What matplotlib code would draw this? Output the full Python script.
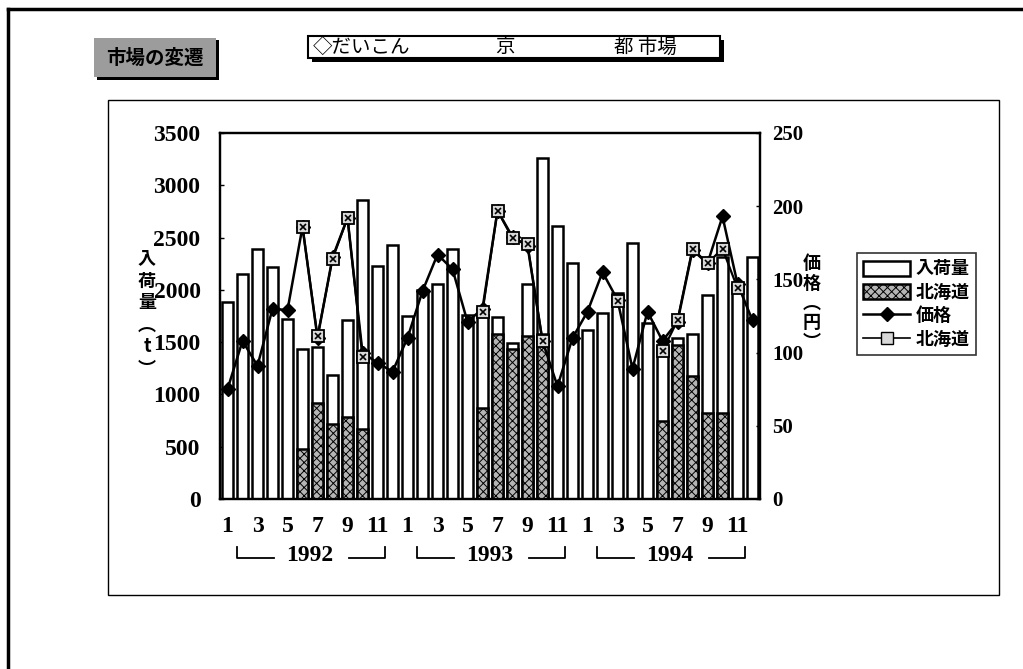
import numpy as np
import matplotlib
matplotlib.use("Agg")
import matplotlib.pyplot as plt
from matplotlib.patches import Rectangle, Patch
from matplotlib.lines import Line2D

# ---------------- data ----------------
years = ["1992", "1993", "1994"]
months = [1, 2, 3, 4, 5, 6, 7, 8, 9, 10, 11, 12] * 3
tick_month_labels = ["1", "3", "5", "7", "9", "11"]

arrival = [1880, 2150, 2390, 2220, 1720, 1430, 1450, 1190, 1710, 2860, 2230, 2430,
           1750, 2000, 2060, 2390, 1760, 1760, 1740, 1490, 2060, 3260, 2610, 2260,
           1620, 1780, 1970, 2450, 1680, 1450, 1540, 1580, 1950, 2310, 2050, 2310]
hokkaido = [0, 0, 0, 0, 0, 480, 920, 720, 780, 670, 0, 0,
            0, 0, 0, 0, 0, 870, 1580, 1430, 1560, 1580, 0, 0,
            0, 0, 0, 0, 0, 750, 1470, 1180, 820, 820, 0, 0]
price = [75, 108, 91, 130, 129, 186, 110, 165, 192, 100, 93, 87,
         110, 142, 167, 157, 121, 130, 197, 179, 173, 108, 77, 110,
         128, 155, 136, 89, 128, 108, 121, 170, 161, 193, 147, 122]
nan = np.nan
hokkaido_price = [nan, nan, nan, nan, nan, 186, 111, 164, 192, 97, nan, nan,
                  nan, nan, nan, nan, nan, 128, 197, 178, 174, 108, nan, nan,
                  nan, nan, 135, nan, nan, 101, 122, 171, 161, 171, 144, nan]

# ---------------- style ----------------
CJK = ["Noto Sans CJK JP", "DejaVu Sans"]
NUM = ["Liberation Serif", "DejaVu Serif"]
plt.rcParams["hatch.linewidth"] = 0.7

W, H = 1023, 669
fig = plt.figure(figsize=(W / 100, H / 100), dpi=100)
fig.patch.set_facecolor("white")

def fx(px):
    return px / W

def fy(py):
    return 1 - py / H

ax = fig.add_axes([fx(220), fy(499), fx(760) - fx(220), fy(133) - fy(499)])
x = np.arange(len(arrival))

ax.bar(x, arrival, width=0.78, color="white", edgecolor="black", lw=1.8, zorder=2)
ax.bar(x, hokkaido, width=0.78, facecolor="#b5b5b5", hatch="xxxx",
       edgecolor="black", lw=1.8, zorder=3)
ax.set_xlim(-0.5, len(arrival) - 0.5)
ax.set_ylim(0, 3500)
ax.set_yticks(np.arange(0, 3501, 500))
ax.set_yticklabels([str(v) for v in range(0, 3501, 500)],
                   fontfamily=NUM, fontweight="bold", fontsize=17)
ax.tick_params(axis="y", direction="in", length=3, width=1, pad=14)

tick_pos = [i for i, m in enumerate(months) if m % 2 == 1]
ax.set_xticks(tick_pos)
ax.set_xticklabels(tick_month_labels * len(years), fontfamily=NUM,
                   fontweight="bold", fontsize=17)
ax.tick_params(axis="x", length=0, pad=12)
for s in ax.spines.values():
    s.set_linewidth(1.6)

ax2 = ax.twinx()
ax2.set_ylim(0, 250)
ax2.set_yticks(np.arange(0, 251, 50))
ax2.set_yticklabels([str(v) for v in range(0, 251, 50)],
                    fontfamily=NUM, fontweight="bold", fontsize=15)
ax2.tick_params(axis="y", direction="in", length=3, width=1, pad=9)
ax2.plot(x, price, color="black", lw=1.8, marker="D", ms=7,
         markerfacecolor="black", zorder=4)
ax2.plot(x, hokkaido_price, color="black", lw=1.6, marker="s", ms=9,
         markerfacecolor="#d8d8d8", markeredgecolor="black", mew=1.3, zorder=5)
ax2.plot(x, hokkaido_price, ls="none", marker="x", ms=5, color="black",
         mew=1.2, zorder=6)
for s in ax2.spines.values():
    s.set_linewidth(1.6)

# year labels and brackets
xt = ax.get_xaxis_transform()
for k, yr in enumerate(years):
    b = 12 * k
    ax.text(b + 5.5, -0.155, yr, transform=xt, ha="center", va="center",
            fontfamily=NUM, fontweight="bold", fontsize=17)
    ax.plot([b + 0.6, b + 0.6, b + 3.1], [-0.13, -0.16, -0.16], transform=xt,
            color="black", lw=1.3, clip_on=False)
    ax.plot([b + 8.1, b + 10.5, b + 10.5], [-0.16, -0.16, -0.13], transform=xt,
            color="black", lw=1.3, clip_on=False)

# axis labels (vertical)
fig.text(fx(147), fy(314), "入\n荷\n量\n︵\nt\n︶", ha="center", va="center",
         fontfamily=CJK, fontsize=13, fontweight="bold", linespacing=1.2)
fig.text(fx(812), fy(303), "価\n格\n︵\n円\n︶", ha="center", va="center",
         fontfamily=CJK, fontsize=13, fontweight="bold", linespacing=1.05)

# legend
handles = [
    Patch(facecolor="white", edgecolor="black", lw=1.8),
    Patch(facecolor="#b5b5b5", edgecolor="black", hatch="xxxx", lw=1.8),
    Line2D([], [], color="black", lw=1.8, marker="D", ms=7),
    Line2D([], [], color="black", lw=1.2, marker="s", ms=8,
           markerfacecolor="#d8d8d8", markeredgecolor="black"),
]
leg = fig.legend(handles, ["入荷量", "北海道", "価格", "北海道"],
                 loc="upper left", bbox_to_anchor=(fx(857), fy(253)),
                 prop={"family": CJK, "size": 13, "weight": "bold"},
                 frameon=True, fancybox=False, edgecolor="black",
                 handlelength=2.6, handleheight=0.9, handletextpad=0.3,
                 labelspacing=0.25, borderpad=0.35, borderaxespad=0)
leg.get_frame().set_linewidth(1.2)

# inner chart frame
fig.add_artist(Rectangle((fx(108), fy(595)), fx(999) - fx(108), fy(100) - fy(595),
                         transform=fig.transFigure, fill=False, ec="black", lw=1.0))
# outer frame (top & left)
fig.add_artist(Line2D([fx(8), 1], [fy(9), fy(9)], transform=fig.transFigure,
                      color="black", lw=2.5))
fig.add_artist(Line2D([fx(8), fx(8)], [fy(9), 0], transform=fig.transFigure,
                      color="black", lw=2.5))

# "市場の変遷" badge
fig.add_artist(Rectangle((fx(97), fy(80)), fx(219) - fx(97), fy(40) - fy(80),
                         transform=fig.transFigure, fc="black", ec="black", lw=0))
fig.add_artist(Rectangle((fx(94), fy(77)), fx(216) - fx(94), fy(38) - fy(77),
                         transform=fig.transFigure, fc="#9c9c9c", ec="#9c9c9c",
                         hatch="....", lw=0))
fig.text(fx(155), fy(58), "市場の変遷", ha="center", va="center",
         fontfamily=CJK, fontsize=14, fontweight="bold", color="black")

# title box
fig.add_artist(Rectangle((fx(312), fy(62)), fx(724) - fx(312), fy(40) - fy(62),
                         transform=fig.transFigure, fc="black", ec="black", lw=0))
fig.add_artist(Rectangle((fx(308), fy(58)), fx(720) - fx(308), fy(36) - fy(58),
                         transform=fig.transFigure, fc="white", ec="black", lw=1.5))
fig.text(fx(313), fy(47), "◇だいこん", ha="left", va="center",
         fontfamily=CJK, fontsize=14, color="black")
fig.text(fx(505), fy(47), "京", ha="center", va="center",
         fontfamily=CJK, fontsize=14, color="black")
fig.text(fx(614), fy(47), "都 市場", ha="left", va="center",
         fontfamily=CJK, fontsize=14, color="black")

fig.savefig("out.png", dpi=100, facecolor="white")
